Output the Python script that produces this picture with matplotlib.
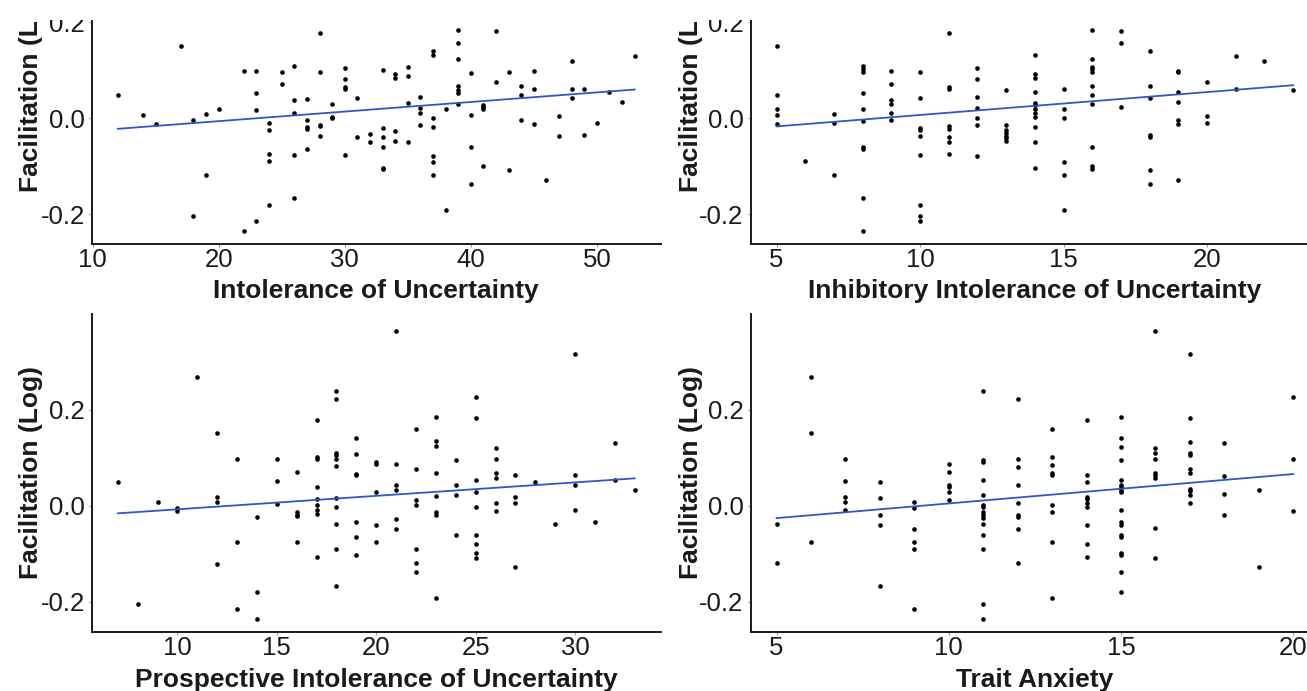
import matplotlib
matplotlib.use('Agg')
import matplotlib.pyplot as plt
from matplotlib.patches import Rectangle

plt.rcParams['font.family'] = ['Liberation Sans', 'DejaVu Sans']

# ---------------- data ----------------
y_label = "Facilitation (Log)"
y_ticks = [-0.2, 0.0, 0.2]
y_tick_labels = ["-0.2", "0.0", "0.2"]

# Panel 1: Intolerance of Uncertainty
iu_label = "Intolerance of Uncertainty"
iu_ticks = [10, 20, 30, 40, 50]
iu_x = [12, 14, 15, 17, 18, 18, 19, 19, 20, 22, 22,
        23, 23, 23, 23, 24, 24, 24, 24, 24, 25, 25,
        26, 26, 26, 26, 26, 27, 27, 27, 27, 27,
        28, 28, 28, 28, 28, 29, 29, 29,
        30, 30, 30, 30, 30, 31, 31, 32, 32,
        33, 33, 33, 33, 33, 33, 34, 34, 34, 34,
        35, 35, 35, 35, 36, 36, 36, 36,
        37, 37, 37, 37, 37, 37, 37, 38, 38,
        39, 39, 39, 39, 39, 39, 39, 40, 40, 40, 40,
        41, 41, 41, 41, 42, 42, 43, 43, 44, 44, 44,
        45, 45, 45, 46, 47, 47, 48, 48, 48, 49, 49,
        50, 51, 52, 53]
iu_y = [0.049, 0.007, -0.011, 0.151, -0.004, -0.203, 0.008, -0.119, 0.019, 0.098, -0.236,
        0.098, 0.052, 0.017, -0.214, -0.010, -0.024, -0.074, -0.090, -0.181, 0.097, 0.071,
        0.110, 0.039, 0.012, -0.076, -0.167, 0.041, -0.003, -0.019, -0.023, -0.065,
        0.178, 0.097, -0.013, -0.017, -0.037, 0.029, 0.003, 0.000,
        0.105, 0.081, 0.066, 0.062, -0.076, 0.042, -0.040, -0.033, -0.049,
        0.101, -0.020, -0.040, -0.060, -0.103, -0.106, 0.092, 0.085, -0.027, -0.047,
        0.108, 0.088, 0.032, -0.049, 0.044, 0.022, 0.012, -0.014,
        0.140, 0.133, 0.001, -0.019, -0.079, -0.091, -0.118, 0.020, -0.192,
        0.185, 0.158, 0.123, 0.068, 0.058, 0.053, 0.029, 0.095, 0.006, -0.060, -0.138,
        0.028, 0.024, 0.019, -0.099, 0.182, 0.076, 0.097, -0.108, 0.067, 0.049, -0.003,
        0.098, 0.062, -0.012, -0.128, 0.005, -0.038, 0.119, 0.062, 0.042, 0.061, -0.035,
        -0.010, 0.054, 0.034, 0.130]
iu_fit_x = [12, 53]
iu_fit_y = [-0.022, 0.060]

# Panel 2: Inhibitory Intolerance of Uncertainty
inh_label = "Inhibitory Intolerance of Uncertainty"
inh_ticks = [5, 10, 15, 20]
inh_x = [5, 5, 5, 5, 5, 6, 7, 7, 7,
         8, 8, 8, 8, 8, 8, 8, 8, 8, 8,
         9, 9, 9, 9, 9, 9,
         10, 10, 10, 10, 10, 10, 10, 10, 10,
         11, 11, 11, 11, 11, 11, 11, 11,
         12, 12, 12, 12, 12, 12, 12,
         13, 13, 13, 13, 13, 13, 13,
         14, 14, 14, 14, 14, 14, 14, 14, 14, 14, 14, 14,
         15, 15, 15, 15, 15, 15,
         16, 16, 16, 16, 16, 16, 16, 16, 16, 16, 16,
         17, 17, 17, 18, 18, 18, 18, 18, 18, 18,
         19, 19, 19, 19, 19, 19, 19, 20, 20, 20, 21, 21, 22, 23]
inh_y = [0.151, 0.049, 0.019, 0.007, -0.012, -0.090, 0.008, -0.010, -0.119,
         0.110, 0.103, 0.097, 0.052, 0.019, -0.005, -0.060, -0.065, -0.167, -0.236,
         0.098, 0.071, 0.039, 0.029, 0.012, -0.003,
         0.097, 0.042, -0.020, -0.024, -0.037, -0.076, -0.181, -0.203, -0.214,
         0.178, 0.066, 0.062, -0.017, -0.023, -0.040, -0.049, -0.074,
         0.105, 0.081, 0.044, 0.022, 0.001, -0.013, -0.079,
         0.058, -0.013, -0.025, -0.031, -0.036, -0.042, -0.047,
         0.132, 0.092, 0.085, 0.054, 0.032, 0.028, 0.019, 0.011, 0.003, -0.018, -0.049, -0.103,
         0.062, 0.020, 0.001, -0.091, -0.118, -0.192,
         0.185, 0.123, 0.108, 0.102, 0.097, 0.068, 0.049, 0.029, -0.060, -0.099, -0.105,
         0.182, 0.158, 0.024, 0.140, 0.067, 0.042, -0.035, -0.039, -0.108, -0.138,
         0.099, 0.096, 0.054, 0.034, -0.003, -0.011, -0.128, 0.076, 0.005, -0.010,
         0.130, 0.062, 0.119, 0.060]
inh_fit_x = [5, 23]
inh_fit_y = [-0.017, 0.069]

# Panel 3: Prospective Intolerance of Uncertainty
pro_label = "Prospective Intolerance of Uncertainty"
pro_ticks = [10, 15, 20, 25, 30]
pro_x = [7, 8, 9, 10, 10, 11, 12, 12, 12, 12, 13, 13, 13, 14, 14, 14, 15, 15, 15,
         16, 16, 16, 16, 16, 17, 17, 17, 17, 17, 17, 17, 17, 17,
         18, 18, 18, 18, 18, 18, 18, 18, 18, 18, 18,
         19, 19, 19, 19, 19, 19, 19, 20, 20, 20, 20, 20,
         21, 21, 21, 21, 21, 21, 22, 22, 22, 22, 22, 22, 22,
         23, 23, 23, 23, 23, 23, 23, 23, 24, 24, 24, 24,
         25, 25, 25, 25, 25, 25, 25, 25, 25, 26, 26, 26, 26, 26, 26,
         27, 27, 27, 27, 28, 29, 30, 30, 30, 30, 31, 32, 32, 33]
pro_y = [0.049, -0.205, 0.007, -0.005, -0.012, 0.268, 0.151, 0.019, 0.008, -0.121,
         0.098, -0.075, -0.215, -0.024, -0.181, -0.237, 0.098, 0.052, 0.003,
         0.070, -0.013, -0.019, -0.022, -0.076,
         0.178, 0.102, 0.097, 0.040, 0.013, 0.002, -0.010, -0.017, -0.107,
         0.239, 0.222, 0.110, 0.105, 0.098, 0.082, 0.017, -0.003, -0.038, -0.090, -0.168,
         0.141, 0.108, 0.066, 0.063, -0.034, -0.066, -0.103, 0.092, 0.086, 0.028, -0.040, -0.076,
         0.364, 0.088, 0.043, 0.032, -0.027, -0.049, 0.159, 0.076, 0.012, 0.001, -0.091, -0.119, -0.139,
         0.186, 0.134, 0.124, 0.068, 0.020, -0.013, -0.020, -0.193, 0.095, 0.044, 0.022, -0.061,
         0.226, 0.183, 0.054, 0.029, -0.003, -0.061, -0.079, -0.099, -0.109,
         0.121, 0.098, 0.068, 0.058, 0.006, -0.012,
         0.063, 0.019, 0.005, -0.129, 0.049, -0.039, 0.316, 0.063, 0.043, -0.010,
         -0.035, 0.130, 0.054, 0.033]
pro_fit_x = [7, 33]
pro_fit_y = [-0.016, 0.057]

# Panel 4: Trait Anxiety
ta_label = "Trait Anxiety"
ta_ticks = [5, 10, 15, 20]
ta_x = [5, 5, 6, 6, 6, 7, 7, 7, 7, 7, 8, 8, 8, 8, 8, 9, 9, 9, 9, 9, 9,
        10, 10, 10, 10, 10, 10,
        11, 11, 11, 11, 11, 11, 11, 11, 11, 11, 11, 11, 11, 11, 11,
        12, 12, 12, 12, 12, 12, 12, 12, 12,
        13, 13, 13, 13, 13, 13, 13, 13, 13,
        14, 14, 14, 14, 14, 14, 14, 14, 14, 14,
        15, 15, 15, 15, 15, 15, 15, 15, 15, 15, 15, 15, 15, 15, 15, 15, 15, 15,
        16, 16, 16, 16, 16, 16, 16, 16, 16,
        17, 17, 17, 17, 17, 17, 17, 17, 17, 17, 17,
        18, 18, 18, 18, 19, 19, 20, 20, 20]
ta_y = [-0.038, -0.120, 0.268, 0.151, -0.076, 0.097, 0.052, 0.019, 0.008, -0.010,
        0.049, 0.017, -0.020, -0.040, -0.168, 0.007, -0.005, -0.049, -0.075, -0.090, -0.215,
        0.088, 0.070, 0.044, 0.040, 0.029, 0.012,
        0.239, 0.095, 0.091, 0.054, 0.022, 0.002, -0.003, -0.013, -0.019, -0.026, -0.038,
        -0.061, -0.091, -0.205, -0.237,
        0.222, 0.098, 0.081, 0.043, 0.006, -0.019, -0.024, -0.049, -0.119,
        0.159, 0.102, 0.085, 0.068, 0.063, 0.001, -0.013, -0.076, -0.193,
        0.178, 0.063, 0.049, 0.019, 0.013, 0.006, -0.003, -0.041, -0.079, -0.107,
        0.186, 0.141, 0.123, 0.095, 0.054, 0.044, 0.040, 0.033, 0.029, -0.010, -0.034,
        -0.040, -0.061, -0.066, -0.099, -0.103, -0.139, -0.181,
        0.364, 0.121, 0.109, 0.098, 0.068, 0.063, 0.058, -0.047, -0.109,
        0.316, 0.183, 0.132, 0.109, 0.105, 0.077, 0.068, 0.035, 0.030, 0.023, 0.006,
        0.130, 0.061, 0.024, -0.019, 0.032, -0.129, 0.226, 0.098, -0.012]
ta_fit_x = [5, 20]
ta_fit_y = [-0.026, 0.066]

# ---------------- figure ----------------
W, H = 1307, 691
fig = plt.figure(figsize=(W / 100, H / 100), dpi=100)
fig.patch.set_facecolor('white')


def add_px_axes(left, right, top, bottom):
    return fig.add_axes([left / W, 1 - bottom / H, (right - left) / W, (bottom - top) / H])


panels = [
    dict(rect=(92.0, 660.5, -73.4, 244.3), x=iu_x, y=iu_y, fx=iu_fit_x, fy=iu_fit_y,
         xlabel=iu_label, xticks=iu_ticks, xlim=(9.95, 55.05), ylab_x=-0.0862),
    dict(rect=(750.7, 1319.0, -73.4, 244.3), x=inh_x, y=inh_y, fx=inh_fit_x, fy=inh_fit_y,
         xlabel=inh_label, xticks=inh_ticks, xlim=(4.1, 23.9), ylab_x=-0.0845),
    dict(rect=(92.0, 660.5, 314.0, 631.7), x=pro_x, y=pro_y, fx=pro_fit_x, fy=pro_fit_y,
         xlabel=pro_label, xticks=pro_ticks, xlim=(5.7, 34.3), ylab_x=-0.0862),
    dict(rect=(750.7, 1319.0, 314.0, 631.7), x=ta_x, y=ta_y, fx=ta_fit_x, fy=ta_fit_y,
         xlabel=ta_label, xticks=ta_ticks, xlim=(4.25, 20.75), ylab_x=-0.0845),
]

text_col = '#1a1a1a'
for p in panels:
    ax = add_px_axes(*p['rect'])
    ax.scatter(p['x'], p['y'], s=11, color='black', linewidths=0, zorder=3)
    ax.plot(p['fx'], p['fy'], color='#2f55c8', lw=1.3, zorder=4)
    ax.set_xlim(*p['xlim'])
    ax.set_ylim(-0.263, 0.400)
    ax.set_xticks(p['xticks'])
    ax.set_xticklabels([str(t) for t in p['xticks']])
    ax.set_yticks(y_ticks)
    ax.set_yticklabels(y_tick_labels)
    for side in ('top', 'right'):
        ax.spines[side].set_visible(False)
    for side in ('left', 'bottom'):
        ax.spines[side].set_linewidth(1.4)
        ax.spines[side].set_color(text_col)
    ax.tick_params(axis='both', which='major', labelsize=18.5, labelcolor=text_col,
                   color='#999999', length=2.2, width=0.8)
    ax.tick_params(axis='x', pad=0.8)
    ax.tick_params(axis='y', pad=3.0)
    ax.set_xlabel(p['xlabel'], fontsize=19, fontweight='bold', color=text_col)
    ax.set_ylabel(y_label, fontsize=19, fontweight='bold', color=text_col)
    bottom_px = p['rect'][3]
    height_px = p['rect'][3] - p['rect'][2]
    ax.xaxis.set_label_coords(0.5, -(279.0 - 244.3) / height_px if bottom_px < 300
                              else -(668.0 - 631.7) / height_px)
    ax.yaxis.set_label_coords(p['ylab_x'], 0.5)

# white band at the very top of the image (reference is cropped there)
fig.add_artist(Rectangle((0, 1 - 20 / H), 1, 20 / H, transform=fig.transFigure,
                         facecolor='white', edgecolor='none', zorder=10))

fig.savefig('out.png', dpi=100, facecolor='white')
